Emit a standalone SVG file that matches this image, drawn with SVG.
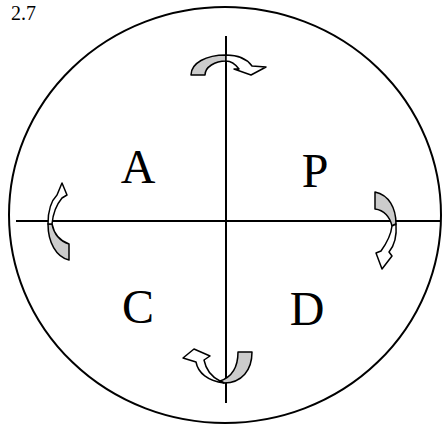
<svg xmlns="http://www.w3.org/2000/svg" width="448" height="424" viewBox="0 0 448 424">
<style>
.ln{stroke:#000;stroke-width:2;fill:none}
.back{fill:#cccccc;stroke:#000;stroke-width:1.5;stroke-linejoin:round}
.front{fill:#fff;stroke:#000;stroke-width:1.5;stroke-linejoin:round}
.lbl{font-family:"Liberation Serif","Times New Roman",serif;font-size:48px;fill:#000;text-anchor:middle}
.cap{font-family:"Liberation Serif","Times New Roman",serif;font-size:20px;fill:#000}
</style>
<rect width="448" height="424" fill="#fff"/>
<text class="cap" x="11" y="20">2.7</text>
<g id="frame">
<ellipse class="ln" cx="225" cy="215" rx="216" ry="208"/>
</g>
<g id="connectors">
<line class="ln" x1="226" y1="36" x2="226" y2="403"/>
<line class="ln" x1="16" y1="221" x2="440" y2="221"/>
</g>
<g id="arrow-top">
<path class="back" d="M191,75 C191,63 206,55 226,55 L226,61 C215,61 205,67 205,75 Z"/>
<path class="front" d="M226,55 C238,55 247,59 252,66 L266,67 L251,75 L234,69 L239,69 C236,65 232,61 226,61 Z"/>
</g>
<g id="arrow-right">
<path class="back" d="M375,192 C389,195 396,208 396,224 L392,226 C390,217 384,210 375,209 Z"/>
<path class="front" d="M396,224 C397,237 394,246 389,252 L392,256 L382,269 L376,253 L381,251 C386,244 391,235 392,226 Z"/>
</g>
<g id="arrow-bottom">
<path class="back" d="M238,352 L252,352 C252,370 242,383 224,383 L220,381 C232,377 238,367 238,352 Z"/>
<path class="front" d="M224,383 C208,381 198,373 196,362 L183,358 L194,349 L210,356 L204,360 C206,370 212,377 220,381 Z"/>
</g>
<g id="arrow-left">
<path class="back" d="M69,260 L69,244 C60,241 54,234 52,224 L48,224 C48,242 56,257 69,260 Z"/>
<path class="front" d="M48,224 C48,210 51,201 57,195 L62,183 L67,195 L62,198 C57,204 53,213 52,224 Z"/>
</g>
<g id="node-A"><text class="lbl" x="138" y="183">A</text></g>
<g id="node-P"><text class="lbl" x="315" y="187">P</text></g>
<g id="node-C"><text class="lbl" x="138" y="323">C</text></g>
<g id="node-D"><text class="lbl" x="307" y="325">D</text></g>
</svg>
